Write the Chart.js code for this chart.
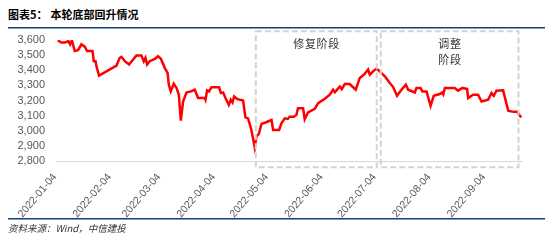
<!DOCTYPE html>
<html>
<head>
<meta charset="utf-8">
<script src="https://cdn.jsdelivr.net/npm/chart.js@4/dist/chart.umd.min.js"></script>
<style>
	body { margin: 0; width: 550px; height: 241px; background: #fff; position: relative; overflow: hidden; font-family: "Noto Sans CJK SC", sans-serif; }
	#title { position: absolute; left: 8px; top: 6px; font-size: 11px; font-weight: bold; color: #000; white-space: nowrap; }
	#title span { margin-left: 3px; }
	.rule { position: absolute; left: 8px; width: 537px; height: 1px; background: #1f3f66; border-bottom: 1px solid #7aa3cc; }
	#source { position: absolute; left: 8px; top: 221px; font-size: 9.5px; font-style: italic; color: #333; white-space: nowrap; }
	canvas { position: absolute; left: 0; top: 0; }
</style>
</head>
<body>
<div id="title">图表5：<span>本轮底部回升情况</span></div>
<div class="rule" style="top:27px"></div>
<canvas id="myChart" width="550" height="241"></canvas>
<div class="rule" style="top:218px"></div>
<div id="source">资料来源：Wind，中信建投</div>
<script>
// days counted from 2022-01-04
let days = [
	0, 2, 4, 6, 7, 8, 9.6, 11.5, 13.4, 15.3, 16.6, 19.7, 20.4, 21.4, 21.9, 23.4,
	33.3, 35.1, 36.1, 38, 40.4, 42.7, 44.6, 47.4, 48.7, 49.7, 50.6, 52.1, 55, 56.8, 58.4,
	60.6, 62.2, 62.9, 64, 65.7, 67.3, 68.6, 69.7, 71, 72.9, 75.4, 77.6, 79.5, 83.3, 83.7,
	84.6, 85.7, 87.1, 91.4, 92.4, 93.7, 95, 96.9, 98, 99, 99.9, 101.8, 105, 106.3, 107.8,
	109.7, 111.6, 112.6, 113.9, 115.4, 117.3, 121.1, 122, 125.4, 126.7, 128.6, 130.3, 131.4,
	133.7, 135.2, 136.1, 139, 139.9, 141.8, 145.6, 147.5, 151.3, 154.1, 156, 157, 159.8,
	160.9, 162.6, 165.4, 168.8, 171.1, 173.9, 175.8, 176.8, 178.6, 180.6, 182.4, 185.3,
	188.1, 190, 192.2, 194.7, 197.2, 198.5, 202.3, 203.2, 205.5, 206.6, 208.9, 211.2, 213,
	216.4, 217.7, 218.4, 219.3, 224.9, 226.8, 229.3, 231.9, 232.5, 235.3, 238.1, 240.1,
	243.8, 245.7, 247, 248.5, 252.3, 255.2, 258.1, 260.4, 261.8, 262.7
]
let values = [
	3598, 3583, 3583, 3593, 3571, 3598, 3527, 3533, 3571, 3556, 3527, 3527, 3460, 3460, 3427, 3365,
	3431, 3482, 3489, 3460, 3438, 3471, 3498, 3498, 3460, 3482, 3438, 3460, 3475, 3493, 3476,
	3416, 3383, 3305, 3260, 3311, 3283, 3238, 3067, 3193, 3253, 3260, 3271, 3216, 3216, 3205,
	3267, 3260, 3287, 3287, 3249, 3253, 3216, 3171, 3205, 3187, 3227, 3209, 3200, 3089, 3082,
	3005, 2889, 2965, 2978, 3045, 3053, 3071, 3005, 3005, 3049, 3082, 3078, 3093,
	3093, 3104, 3149, 3149, 3076, 3122, 3145, 3182, 3211, 3238, 3271, 3255, 3293,
	3275, 3309, 3309, 3271, 3349, 3376, 3405, 3371, 3393, 3411, 3393, 3360,
	3316, 3289, 3231, 3271, 3305, 3271, 3253, 3283, 3283, 3260, 3260, 3165, 3231,
	3243, 3253, 3240, 3283, 3283, 3265, 3283, 3276, 3216, 3238, 3238, 3193,
	3205, 3249, 3231, 3265, 3267, 3133, 3125, 3125, 3098, 3090
]

// x axis labels (monthly, in days from 2022-01-04)
let tickDays = [0, 31, 59, 90, 120, 151, 181, 212, 243]
let tickLabels = ['2022-01-04', '2022-02-04', '2022-03-04', '2022-04-04', '2022-05-04',
	'2022-06-04', '2022-07-04', '2022-08-04', '2022-09-04']

// dashed boxes: day range + text lines
let phases = [
	{ from: 112.2, to: 180.7, text: ['修复阶段'] },
	{ from: 183, to: 261, text: ['调整', '阶段'] },
]

let points = days.map((d, i) => ({ x: d, y: values[i] }))

// draws the dashed phase boxes and their labels
const phaseBoxes = {
	id: 'phaseBoxes',
	afterDraw(chart) {
		let ctx = chart.ctx
		let xs = chart.scales.x
		let ys = chart.scales.y
		let top = ys.getPixelForValue(3658)
		let bottom = ys.getPixelForValue(2758)
		ctx.save()
		ctx.strokeStyle = '#d3d3d3'
		ctx.lineWidth = 2
		ctx.setLineDash([6, 3])
		for (let p of phases) {
			let l = xs.getPixelForValue(p.from)
			let r = xs.getPixelForValue(p.to)
			ctx.strokeRect(l, top, r - l, bottom - top)
			ctx.fillStyle = '#333'
			ctx.font = '11px "Noto Sans CJK SC"'
			ctx.textAlign = 'center'
			ctx.textBaseline = 'middle'
			p.text.forEach((t, i) => {
				ctx.fillText(t.split('').join(String.fromCharCode(8202)), (l + r) / 2, top + 13 + i * 16)
			})
		}
		ctx.restore()
	}
}

let ctx = document.getElementById('myChart').getContext('2d')
let myChart = new Chart(ctx, {
	type: 'line',
	data: {
		datasets: [{
			data: points,
			borderColor: '#ff0000',
			borderWidth: 2.5,
			pointRadius: 0,
			tension: 0,
			fill: false,
		}],
	},
	options: {
		animation: false,
		responsive: false,
		layout: { padding: { top: 40, right: 28, left: 0, bottom: 0 } },
		plugins: { legend: { display: false }, tooltip: { enabled: false } },
		scales: {
			x: {
				type: 'linear',
				min: -1,
				max: 263,
				grid: { display: false, drawTicks: false },
				border: { display: true, color: '#d9d9d9', width: 1 },
				afterFit: (scale) => { scale.height = 80 },
				afterBuildTicks: (scale) => { scale.ticks = tickDays.map(v => ({ value: v })) },
				ticks: {
					autoSkip: false,
					minRotation: 50,
					maxRotation: 50,
					padding: 10,
					labelOffset: -3,
					color: '#595959',
					font: { family: 'Liberation Sans', size: 10.5 },
					callback: (v, i) => tickLabels[i],
				},
			},
			y: {
				min: 2800,
				max: 3600,
				grid: { display: false, drawTicks: false },
				border: { display: false },
				afterFit: (scale) => { scale.width = 56 },
				ticks: {
					stepSize: 100,
					autoSkip: false,
					padding: 11,
					color: '#595959',
					font: { family: 'Liberation Sans', size: 11 },
					callback: (v) => v.toLocaleString('en-US'),
				},
			},
		},
	},
	plugins: [phaseBoxes],
})
</script>
</body>
</html>
